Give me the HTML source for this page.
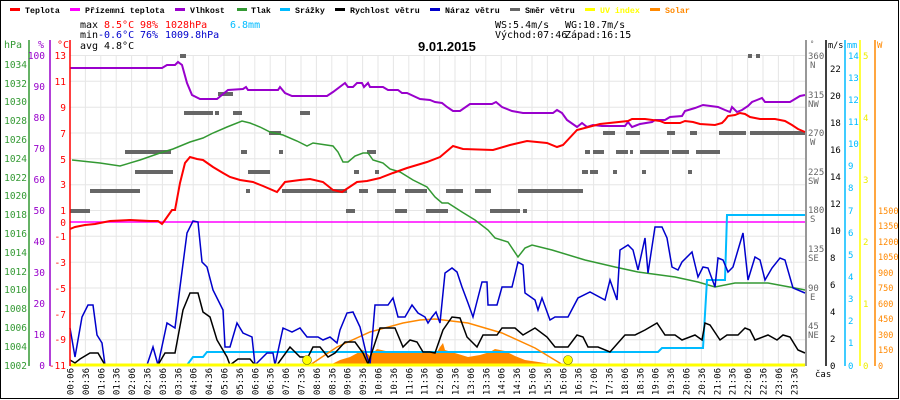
<!DOCTYPE html>
<html><head><meta charset="utf-8"><style>
html,body{margin:0;padding:0;background:#fff}
svg{display:block}
</style></head><body>
<svg width="900" height="400" viewBox="0 0 900 400" xmlns="http://www.w3.org/2000/svg" font-family="DejaVu Sans Mono, Liberation Mono, monospace" font-size="10">
<rect x="0.5" y="0.5" width="898" height="398" fill="#fff" stroke="#000"/>
<!-- legend -->
<g font-size="8.3" font-family="Liberation Mono, monospace" font-weight="bold">
<rect x="10" y="8" width="10" height="3" fill="#f00"/><text x="25" y="13">Teplota</text>
<rect x="70" y="8" width="10" height="3" fill="#f0f"/><text x="85" y="13">Přízemní teplota</text>
<rect x="175" y="8" width="10" height="3" fill="#90c"/><text x="190" y="13">Vlhkost</text>
<rect x="237" y="8" width="10" height="3" fill="#393"/><text x="251" y="13">Tlak</text>
<rect x="280" y="8" width="10" height="3" fill="#0bf"/><text x="295" y="13">Srážky</text>
<rect x="335" y="8" width="10" height="3" fill="#000"/><text x="350" y="13">Rychlost větru</text>
<rect x="430" y="8" width="10" height="3" fill="#00c"/><text x="445" y="13">Náraz větru</text>
<rect x="510" y="8" width="10" height="3" fill="#666"/><text x="525" y="13">Směr větru</text>
<rect x="585" y="8" width="10" height="3" fill="#ff0"/><text x="600" y="13" fill="#ff0">UV index</text>
<rect x="650" y="8" width="10" height="3" fill="#f80"/><text x="665" y="13" fill="#f80">Solar</text>
</g>
<g font-size="10">
<text x="80" y="28">max</text><text x="104" y="28" fill="#f00">8.5°C</text><text x="140" y="28" fill="#f00">98%</text><text x="165" y="28" fill="#f00">1028hPa</text><text x="230" y="28" fill="#0bf">6.8mm</text>
<text x="80" y="38">min</text><text x="98" y="38" fill="#00c">-0.6°C</text><text x="140" y="38" fill="#00c">76%</text><text x="165" y="38" fill="#00c">1009.8hPa</text>
<text x="80" y="49">avg</text><text x="104" y="49">4.8°C</text>
<text x="495" y="28">WS:5.4m/s</text><text x="565" y="28">WG:10.7m/s</text>
<text x="495" y="38">Východ:07:46</text><text x="565" y="38">Západ:16:15</text>
</g>
<text x="418" y="51" font-size="13" font-weight="bold" font-family="Liberation Sans, sans-serif">9.01.2015</text>
<!-- grid -->
<path stroke="#e6e6e6" d="M70 55.5H805M70 81.3H805M70 107.2H805M70 133H805M70 158.8H805M70 184.7H805M70 210.5H805M70 236.3H805M70 262.2H805M70 288H805M70 313.8H805M70 339.7H805"/>
<path stroke="#e6e6e6" d="M85.4 55V365M100.8 55V365M116.2 55V365M131.6 55V365M147 55V365M162.4 55V365M177.8 55V365M193.2 55V365M208.6 55V365M224 55V365M239.4 55V365M254.8 55V365M270.2 55V365M285.6 55V365M301 55V365M316.4 55V365M331.8 55V365M347.2 55V365M362.6 55V365M378 55V365M393.4 55V365M408.8 55V365M424.2 55V365M439.6 55V365M455 55V365M470.4 55V365M485.8 55V365M501.2 55V365M516.6 55V365M532 55V365M547.4 55V365M562.8 55V365M578.2 55V365M593.6 55V365M609 55V365M624.4 55V365M639.8 55V365M655.2 55V365M670.6 55V365M686 55V365M701.4 55V365M716.8 55V365M732.2 55V365M747.6 55V365M763 55V365M778.4 55V365M793.8 55V365"/>
<!-- wind direction -->
<g fill="#666">
<rect x="180" y="54" width="6" height="4"/><rect x="748" y="54" width="4" height="4"/><rect x="756" y="54" width="4" height="4"/>
<rect x="218" y="92" width="15" height="4"/>
<rect x="184" y="111" width="29" height="4"/><rect x="215" y="111" width="4" height="4"/><rect x="233" y="111" width="9" height="4"/><rect x="300" y="111" width="10" height="4"/>
<rect x="269" y="131" width="12" height="4"/><rect x="603" y="131" width="12" height="4"/><rect x="626" y="131" width="14" height="4"/><rect x="667" y="131" width="8" height="4"/><rect x="690" y="131" width="7" height="4"/><rect x="719" y="131" width="27" height="4"/><rect x="750" y="131" width="55" height="4"/>
<rect x="125" y="150" width="46" height="4"/><rect x="241" y="150" width="6" height="4"/><rect x="279" y="150" width="4" height="4"/><rect x="367" y="150" width="9" height="4"/><rect x="585" y="150" width="5" height="4"/><rect x="593" y="150" width="11" height="4"/><rect x="616" y="150" width="12" height="4"/><rect x="630" y="150" width="3" height="4"/><rect x="640" y="150" width="29" height="4"/><rect x="672" y="150" width="17" height="4"/><rect x="696" y="150" width="24" height="4"/>
<rect x="135" y="170" width="38" height="4"/><rect x="248" y="170" width="22" height="4"/><rect x="354" y="170" width="5" height="4"/><rect x="375" y="170" width="4" height="4"/><rect x="582" y="170" width="6" height="4"/><rect x="590" y="170" width="8" height="4"/><rect x="613" y="170" width="4" height="4"/><rect x="642" y="170" width="4" height="4"/><rect x="688" y="170" width="4" height="4"/>
<rect x="90" y="189" width="50" height="4"/><rect x="246" y="189" width="4" height="4"/><rect x="282" y="189" width="65" height="4"/><rect x="359" y="189" width="9" height="4"/><rect x="377" y="189" width="19" height="4"/><rect x="405" y="189" width="22" height="4"/><rect x="446" y="189" width="17" height="4"/><rect x="475" y="189" width="16" height="4"/><rect x="518" y="189" width="65" height="4"/>
<rect x="70" y="209" width="20" height="4"/><rect x="346" y="209" width="9" height="4"/><rect x="395" y="209" width="12" height="4"/><rect x="426" y="209" width="22" height="4"/><rect x="490" y="209" width="30" height="4"/><rect x="523" y="209" width="4" height="4"/>
</g>
<path fill="#f80" d="M330 365L340 360L350 357L363 350L370 356L377 349L390 352L403 353L420 351L437 352L440 347L443 343L445 350L468 357L480 355L490 352L495 349L505 351L515 356L525 360L545 363L555 365Z"/>
<path d="M70 222H805" stroke="#f0f" stroke-width="1.5"/>
<polyline fill="none" stroke="#393" stroke-width="1.5" points="72,160 100,163 120,166 140,160 160,153 173,149 190,142 203,138 213,133 227,127 242,121 250,123 260,127 270,132 283,135 297,141 307,146 313,143 333,146 338,152 343,162 348,162 355,156 363,153 368,153 373,160 383,163 390,169 400,172 413,180 427,187 435,197 442,203 448,203 462,212 475,220 488,230 495,238 508,242 518,257 525,248 532,245 552,250 585,260 615,267 638,272 675,277 698,282 715,287 735,283 768,283 795,288 805,290"/>
<polyline fill="none" stroke="#90c" stroke-width="2" points="70,68 162,68 167,65 175,65 178,62 182,65 187,83 192,95 200,99 217,99 228,90 243,89 246,87 248,90 278,90 280,87 285,93 292,96 327,96 333,92 345,83 348,87 353,87 357,83 362,83 364,87 368,83 370,87 383,87 388,90 398,90 402,93 407,93 420,99 430,100 435,102 442,103 447,107 453,111 460,111 470,104 492,104 496,102 502,107 512,111 523,113 553,113 557,110 562,113 567,120 577,127 582,123 587,127 593,125 602,126 625,126 628,122 632,127 640,124 652,122 655,120 665,120 670,117 682,116 685,111 695,108 703,105 718,107 725,110 730,112 732,107 737,112 742,110 748,106 752,102 757,100 762,98 765,102 790,102 795,99 800,96 805,95"/>
<polyline fill="none" stroke="#f00" stroke-width="2" points="70,229 75,227 85,225 95,224 110,221 130,220 150,221 158,221 162,224 165,220 172,210 175,210 180,183 185,163 190,157 197,159 203,160 213,167 223,173 230,177 240,180 253,182 263,186 277,192 285,182 300,180 310,179 323,182 333,190 342,192 357,182 367,181 380,178 393,173 407,168 427,162 440,157 453,146 463,149 493,150 510,145 527,141 547,143 557,147 563,145 577,130 600,124 628,121 632,119 645,119 660,121 665,123 680,123 685,121 693,122 700,124 715,125 722,123 725,120 728,116 735,115 740,113 745,114 750,117 760,119 775,119 780,120 785,121 792,125 798,129 805,132"/>
<polyline fill="none" stroke="#0bf" stroke-width="2" points="187,365 193,357 203,357 207,352 658,352 662,348 703,348 707,280 725,280 727,215 805,215"/>
<polyline fill="none" stroke="#f80" stroke-width="1.5" points="310,365 337,347 370,332 403,323 420,320 435,319 468,323 502,333 535,348 563,365"/>
<polyline fill="none" stroke="#00c" stroke-width="1.5" points="70,328 75,357 82,317 88,305 93,305 97,335 102,343 105,365 147,365 153,347 158,365 167,323 175,328 180,287 187,233 193,221 198,222 202,262 207,267 213,290 223,310 225,347 230,347 237,323 243,333 252,337 255,365 267,353 273,353 275,365 283,328 292,332 300,328 307,337 318,337 323,340 330,337 337,343 340,330 347,313 353,312 360,327 367,357 370,365 375,305 388,305 393,298 398,317 405,317 412,305 418,313 425,317 428,323 432,317 436,312 440,323 445,273 452,268 457,272 462,287 468,303 473,317 482,282 487,282 488,305 497,305 502,287 512,287 518,262 523,265 525,293 535,300 538,310 542,298 550,320 555,317 568,317 578,298 590,292 605,300 610,280 617,300 620,250 628,245 633,250 638,270 645,238 648,273 655,227 662,227 667,238 672,267 678,270 682,262 692,252 698,277 703,267 708,268 715,287 718,258 723,260 728,272 733,267 743,233 748,280 755,257 760,260 765,280 772,268 780,258 785,260 793,288 805,293"/>
<polyline fill="none" stroke="#000" stroke-width="1.5" points="70,360 75,363 80,359 90,353 98,353 105,365 158,365 165,353 175,353 183,310 190,293 198,293 203,312 210,317 217,340 227,357 230,365 238,359 250,359 255,365 277,365 290,347 300,357 308,357 313,347 320,347 328,357 335,353 345,342 355,342 363,353 368,364 380,328 395,328 403,347 410,340 417,342 423,352 430,352 435,353 443,330 452,317 460,318 467,337 477,347 483,335 497,335 502,328 515,328 523,335 535,328 547,337 555,347 568,347 577,335 583,337 588,347 598,347 610,352 625,335 635,335 645,330 657,323 665,335 675,335 682,340 695,335 702,340 705,323 710,325 720,340 727,335 738,335 745,328 750,330 755,340 768,335 777,340 783,335 790,337 798,350 805,353"/>
<path d="M70 365H805" stroke="#ff0" stroke-width="3"/>
<circle cx="307" cy="360" r="4.5" fill="#ff0" stroke="#660" stroke-width="0.6"/>
<circle cx="568" cy="360" r="4.5" fill="#ff0" stroke="#660" stroke-width="0.6"/>
<!-- left axes -->
<path d="M29 40V366" stroke="#393" stroke-width="1.5"/>
<path d="M50 40V366" stroke="#90c" stroke-width="1.5"/>
<path d="M70 40V366" stroke="#f00" stroke-width="1.5"/>
<text x="4" y="48" fill="#393">hPa</text><text x="38" y="48" fill="#90c">%</text><text x="57" y="48" fill="#f00">°C</text>
<g fill="#393" text-anchor="end" font-size="9.5">
<text x="27" y="68">1034</text><text x="27" y="87">1032</text><text x="27" y="105">1030</text><text x="27" y="124">1028</text><text x="27" y="143">1026</text><text x="27" y="162">1024</text><text x="27" y="181">1022</text><text x="27" y="199">1020</text><text x="27" y="218">1018</text><text x="27" y="237">1016</text><text x="27" y="256">1014</text><text x="27" y="275">1012</text><text x="27" y="293">1010</text><text x="27" y="312">1008</text><text x="27" y="331">1006</text><text x="27" y="350">1004</text><text x="27" y="369">1002</text>
</g>
<g fill="#90c" text-anchor="end" font-size="9.5">
<text x="45" y="59">100</text><text x="45" y="90">90</text><text x="45" y="121">80</text><text x="45" y="152">70</text><text x="45" y="183">60</text><text x="45" y="214">50</text><text x="45" y="245">40</text><text x="45" y="276">30</text><text x="45" y="307">20</text><text x="45" y="338">10</text><text x="45" y="369">0</text>
</g>
<g fill="#f00" text-anchor="end" font-size="9.5">
<text x="66" y="59">13</text><text x="66" y="85">11</text><text x="66" y="111">9</text><text x="66" y="137">7</text><text x="66" y="163">5</text><text x="66" y="188">3</text><text x="66" y="214">1</text><text x="66" y="226">0</text><text x="66" y="240">-1</text><text x="66" y="266">-3</text><text x="66" y="292">-5</text><text x="66" y="318">-7</text><text x="66" y="343">-9</text><text x="66" y="369">-11</text>
</g>
<!-- right axes -->
<path d="M806 40V366" stroke="#777" stroke-width="1.5"/>
<path d="M826 40V366" stroke="#000" stroke-width="1.5"/>
<path d="M845 40V366" stroke="#0bf" stroke-width="1.5"/>
<path d="M860 40V366" stroke="#ff0" stroke-width="1.5"/>
<path d="M875 40V366" stroke="#f80" stroke-width="1.5"/>
<g fill="#666" font-size="9">
<text x="810" y="46" font-size="7">°</text>
<text x="808" y="59">360</text><text x="810" y="68">N</text>
<text x="808" y="98">315</text><text x="808" y="107">NW</text>
<text x="808" y="136">270</text><text x="810" y="145">W</text>
<text x="808" y="175">225</text><text x="808" y="184">SW</text>
<text x="808" y="213">180</text><text x="810" y="222">S</text>
<text x="808" y="252">135</text><text x="808" y="261">SE</text>
<text x="808" y="291">90</text><text x="810" y="300">E</text>
<text x="808" y="329">45</text><text x="808" y="338">NE</text>
</g>
<text x="828" y="48" font-size="8.5">m/s</text>
<g font-size="9">
<text x="830" y="72">22</text><text x="830" y="99">20</text><text x="830" y="126">18</text><text x="830" y="153">16</text><text x="830" y="180">14</text><text x="830" y="207">12</text><text x="830" y="234">10</text><text x="830" y="261">8</text><text x="830" y="288">6</text><text x="830" y="315">4</text><text x="830" y="342">2</text><text x="830" y="369">0</text>
</g>
<text x="847" y="48" fill="#0bf" font-size="8.5">mm</text>
<g fill="#0bf" font-size="9">
<text x="848" y="59">14</text><text x="848" y="81">13</text><text x="848" y="103">12</text><text x="848" y="125">11</text><text x="848" y="147">10</text><text x="848" y="169">9</text><text x="848" y="191">8</text><text x="848" y="214">7</text><text x="848" y="236">6</text><text x="848" y="258">5</text><text x="848" y="280">4</text><text x="848" y="302">3</text><text x="848" y="324">2</text><text x="848" y="346">1</text><text x="848" y="369">0</text>
</g>
<g fill="#ee0" font-size="9">
<text x="863" y="59">5</text><text x="863" y="121">4</text><text x="863" y="183">3</text><text x="863" y="245">2</text><text x="863" y="307">1</text><text x="863" y="369">0</text>
</g>
<text x="877" y="48" fill="#f80" font-size="9">W</text>
<g fill="#f80" font-size="8.5">
<text x="878" y="214">1500</text><text x="878" y="229">1350</text><text x="878" y="245">1200</text><text x="878" y="260">1050</text><text x="878" y="276">900</text><text x="878" y="291">750</text><text x="878" y="307">600</text><text x="878" y="322">450</text><text x="878" y="338">300</text><text x="878" y="353">150</text><text x="878" y="369">0</text>
</g>
<text x="815" y="377" font-size="9">čas</text>
<!-- time labels -->
<g font-size="9" text-anchor="end">
<text transform="translate(73.5,368) rotate(-90)">00:06</text>
<text transform="translate(88.9,368) rotate(-90)">00:36</text>
<text transform="translate(104.3,368) rotate(-90)">01:06</text>
<text transform="translate(119.7,368) rotate(-90)">01:36</text>
<text transform="translate(135.1,368) rotate(-90)">02:06</text>
<text transform="translate(150.5,368) rotate(-90)">02:36</text>
<text transform="translate(165.9,368) rotate(-90)">03:06</text>
<text transform="translate(181.3,368) rotate(-90)">03:36</text>
<text transform="translate(196.7,368) rotate(-90)">04:06</text>
<text transform="translate(212.1,368) rotate(-90)">04:36</text>
<text transform="translate(227.5,368) rotate(-90)">05:06</text>
<text transform="translate(242.9,368) rotate(-90)">05:36</text>
<text transform="translate(258.3,368) rotate(-90)">06:06</text>
<text transform="translate(273.7,368) rotate(-90)">06:36</text>
<text transform="translate(289.1,368) rotate(-90)">07:06</text>
<text transform="translate(304.5,368) rotate(-90)">07:36</text>
<text transform="translate(319.9,368) rotate(-90)">08:06</text>
<text transform="translate(335.3,368) rotate(-90)">08:36</text>
<text transform="translate(350.7,368) rotate(-90)">09:06</text>
<text transform="translate(366.1,368) rotate(-90)">09:36</text>
<text transform="translate(381.5,368) rotate(-90)">10:06</text>
<text transform="translate(396.9,368) rotate(-90)">10:36</text>
<text transform="translate(412.3,368) rotate(-90)">11:06</text>
<text transform="translate(427.7,368) rotate(-90)">11:36</text>
<text transform="translate(443.1,368) rotate(-90)">12:06</text>
<text transform="translate(458.5,368) rotate(-90)">12:36</text>
<text transform="translate(473.9,368) rotate(-90)">13:06</text>
<text transform="translate(489.3,368) rotate(-90)">13:36</text>
<text transform="translate(504.7,368) rotate(-90)">14:06</text>
<text transform="translate(520.1,368) rotate(-90)">14:36</text>
<text transform="translate(535.5,368) rotate(-90)">15:06</text>
<text transform="translate(550.9,368) rotate(-90)">15:36</text>
<text transform="translate(566.3,368) rotate(-90)">16:06</text>
<text transform="translate(581.7,368) rotate(-90)">16:36</text>
<text transform="translate(597.1,368) rotate(-90)">17:06</text>
<text transform="translate(612.5,368) rotate(-90)">17:36</text>
<text transform="translate(627.9,368) rotate(-90)">18:06</text>
<text transform="translate(643.3,368) rotate(-90)">18:36</text>
<text transform="translate(658.7,368) rotate(-90)">19:06</text>
<text transform="translate(674.1,368) rotate(-90)">19:36</text>
<text transform="translate(689.5,368) rotate(-90)">20:06</text>
<text transform="translate(704.9,368) rotate(-90)">20:36</text>
<text transform="translate(720.3,368) rotate(-90)">21:06</text>
<text transform="translate(735.7,368) rotate(-90)">21:36</text>
<text transform="translate(751.1,368) rotate(-90)">22:06</text>
<text transform="translate(766.5,368) rotate(-90)">22:36</text>
<text transform="translate(781.9,368) rotate(-90)">23:06</text>
<text transform="translate(797.3,368) rotate(-90)">23:36</text>
</g>
</svg>
</body></html>
